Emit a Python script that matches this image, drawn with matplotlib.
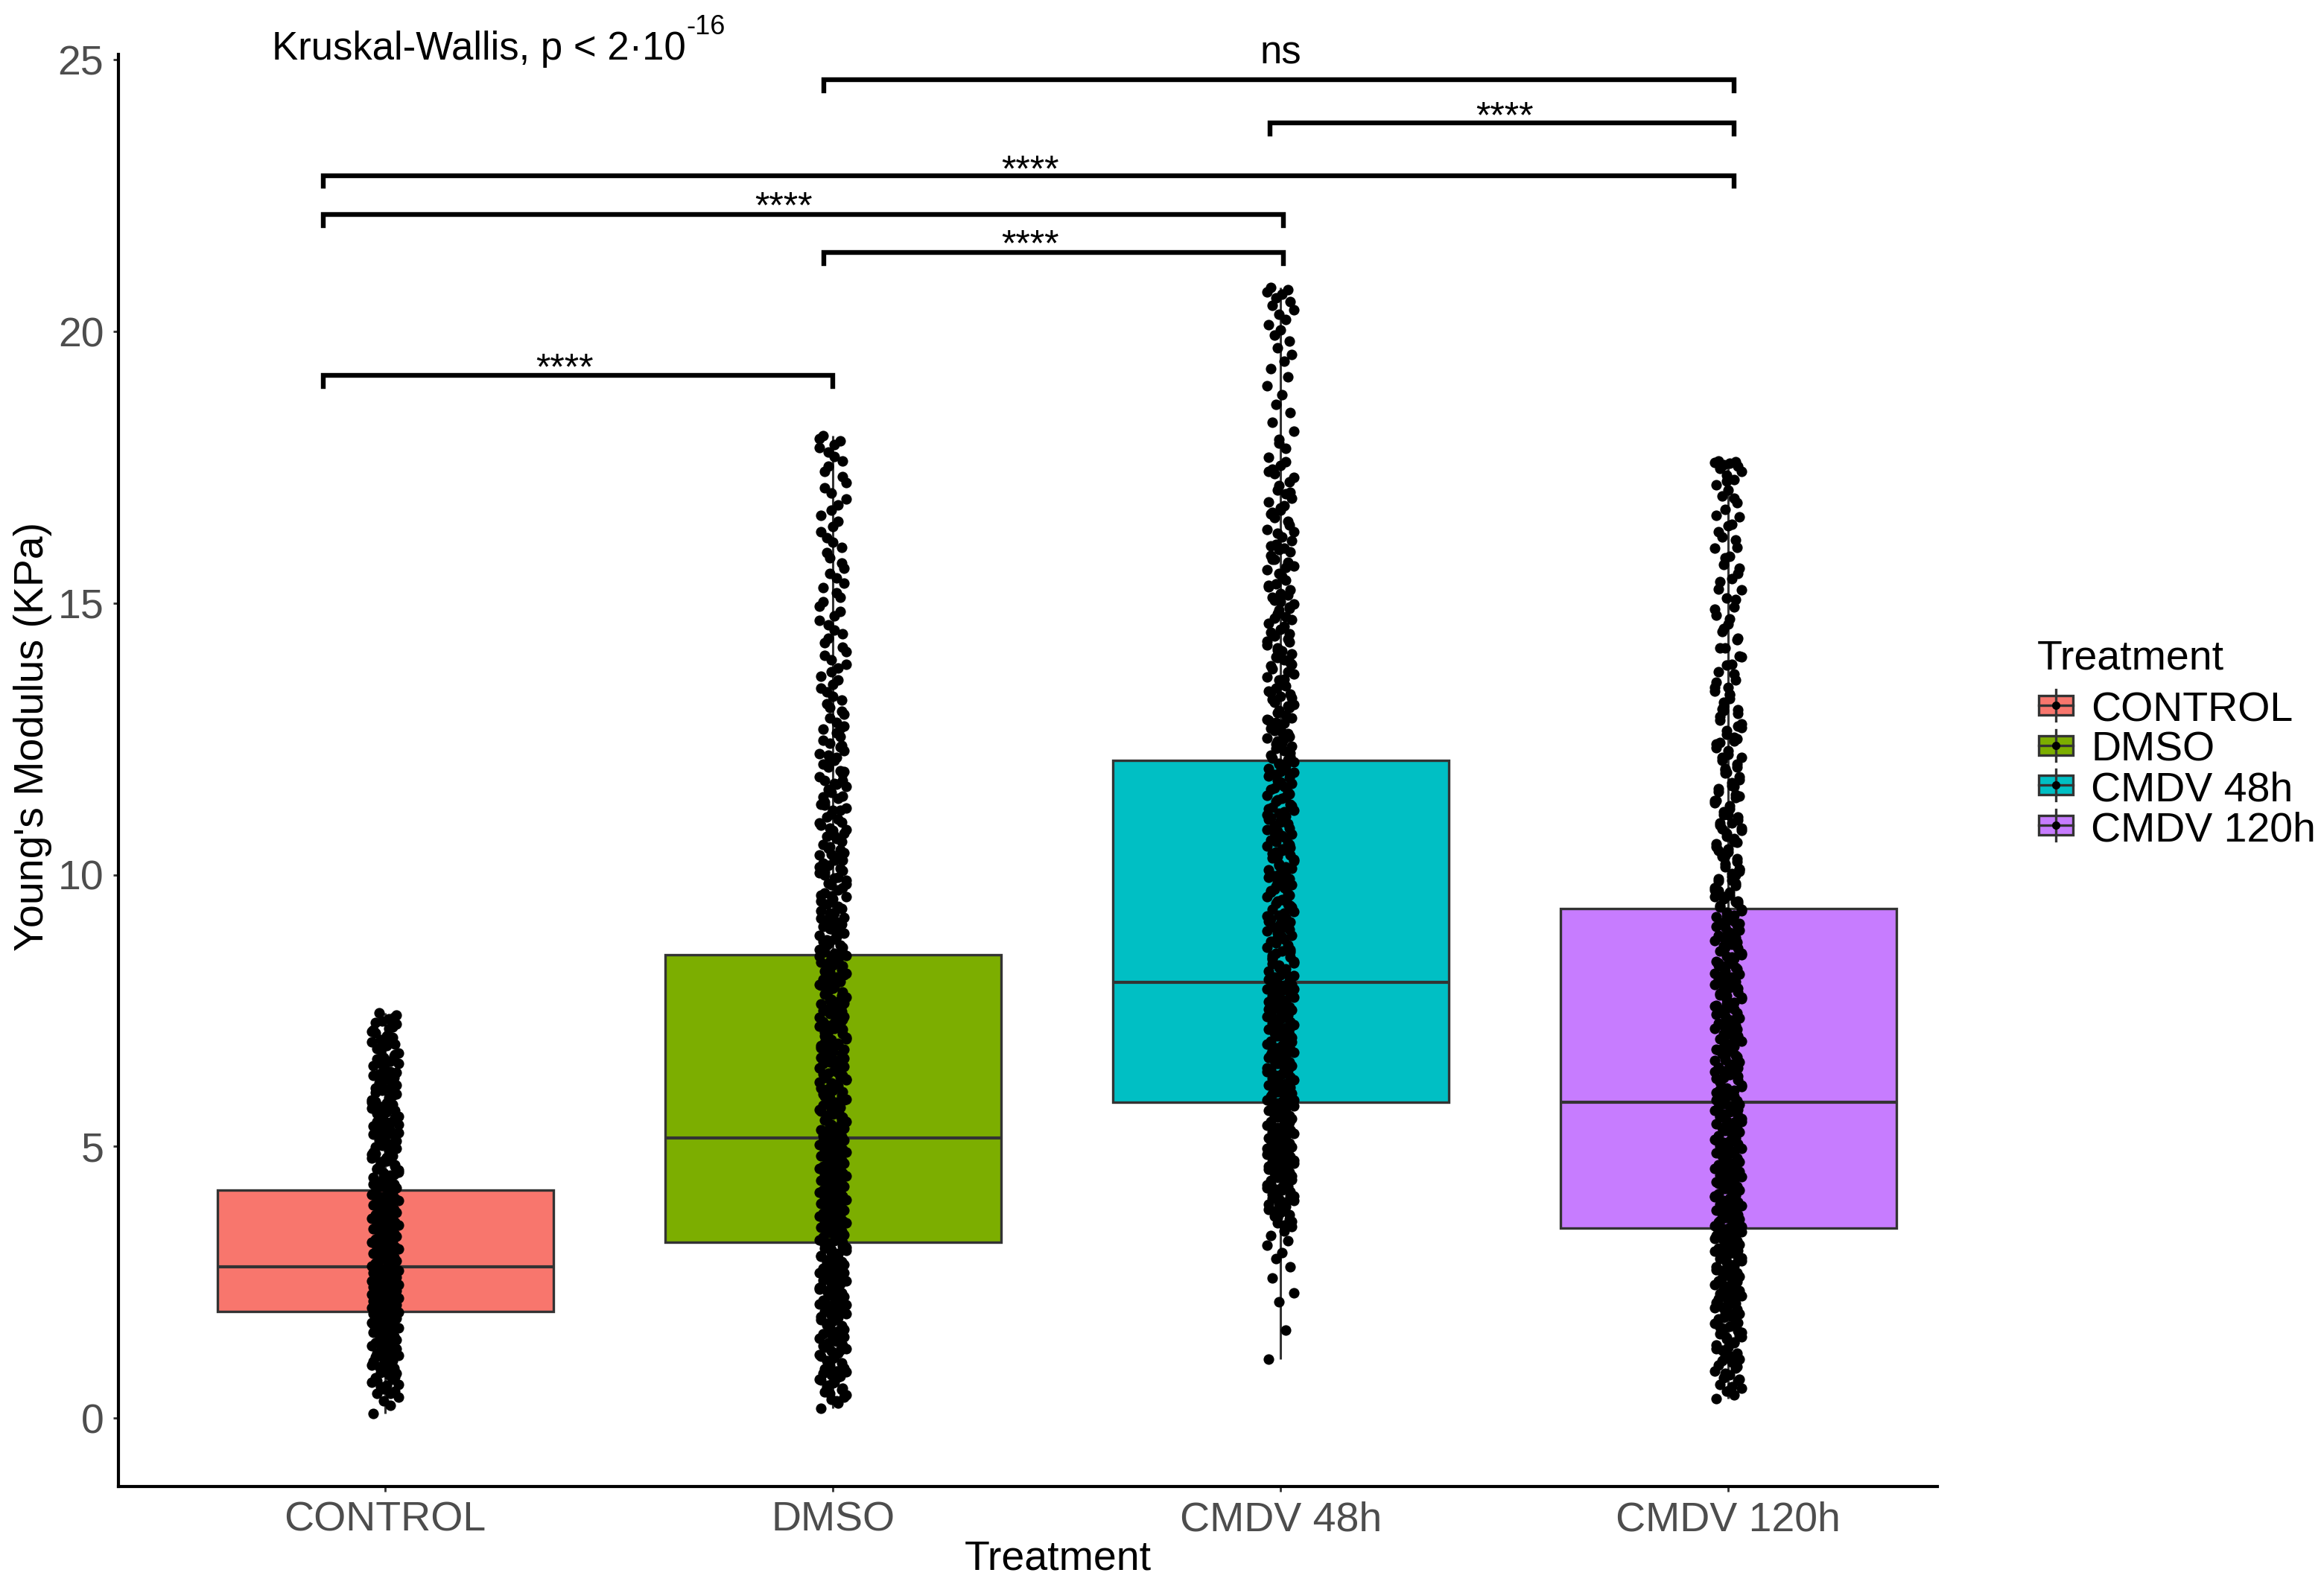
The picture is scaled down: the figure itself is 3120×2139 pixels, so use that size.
import matplotlib.pyplot as plt
from matplotlib.patches import Rectangle
from matplotlib.lines import Line2D
import numpy as np

plt.rcParams['font.family'] = ['Liberation Sans', 'DejaVu Sans']

W, H = 3120, 2139
DPI = 200

treatments = ['CONTROL', 'DMSO', 'CMDV 48h', 'CMDV 120h']
colors = ['#F8766D', '#7CAE00', '#00BFC4', '#C77CFF']

# box stats
q1 = [1.96, 3.24, 5.81, 3.49]
med = [2.78, 5.15, 8.02, 5.81]
q3 = [4.20, 8.53, 12.10, 9.38]

# individual measurements (estimated from the jitter strips)
control_pts = [
    0.08, 0.24, 0.31, 0.38, 0.46, 0.50, 0.57, 0.60, 0.66, 0.71, 0.74, 0.79, 0.83, 0.86, 0.92,
    0.95, 0.99, 1.04, 1.07, 1.10, 1.15, 1.19, 1.22, 1.24, 1.29, 1.33, 1.35, 1.38, 1.42, 1.44,
    1.47, 1.51, 1.53, 1.56, 1.58, 1.61, 1.63, 1.66, 1.68, 1.70, 1.72, 1.74, 1.76, 1.78, 1.80,
    1.82, 1.84, 1.86, 1.87, 1.89, 1.90, 1.92, 1.93, 1.94, 1.95,
    1.97, 1.99, 2.00, 2.02, 2.03, 2.05, 2.06, 2.08, 2.09, 2.10, 2.12, 2.13, 2.15, 2.16, 2.18,
    2.19, 2.21, 2.22, 2.23, 2.25, 2.26, 2.28, 2.29, 2.31, 2.32, 2.34, 2.35, 2.37, 2.38, 2.40,
    2.41, 2.43, 2.44, 2.46, 2.47, 2.49, 2.50, 2.52, 2.53, 2.55, 2.56, 2.58, 2.59, 2.61, 2.62,
    2.64, 2.65, 2.67, 2.68, 2.70, 2.71, 2.73, 2.74, 2.76, 2.77,
    2.80, 2.83, 2.85, 2.88, 2.90, 2.93, 2.96, 2.98, 3.01, 3.03, 3.06, 3.09, 3.11, 3.14, 3.16,
    3.19, 3.22, 3.24, 3.27, 3.29, 3.32, 3.35, 3.37, 3.40, 3.42, 3.45, 3.48, 3.50, 3.53, 3.55,
    3.58, 3.61, 3.63, 3.66, 3.68, 3.71, 3.74, 3.76, 3.79, 3.81, 3.84, 3.87, 3.89, 3.92, 3.94,
    3.97, 4.00, 4.02, 4.05, 4.07, 4.10, 4.12, 4.15, 4.17, 4.19,
    4.23, 4.27, 4.30, 4.35, 4.38, 4.43, 4.47, 4.51, 4.56, 4.60, 4.64, 4.69, 4.73, 4.78, 4.83,
    4.87, 4.92, 4.97, 5.02, 5.07, 5.12, 5.18, 5.23, 5.29, 5.34, 5.40, 5.46, 5.52, 5.58, 5.64,
    5.70, 5.77, 5.83, 5.90, 5.96, 6.03, 6.10, 6.17, 6.24, 6.31, 6.38, 6.46, 6.53, 6.61, 6.69,
    6.77, 6.85, 6.93, 7.01, 7.09, 7.17, 7.25, 7.31, 7.38, 7.46,
    4.25, 4.31, 4.40, 4.45, 4.53, 4.58, 4.66, 4.71, 4.80, 4.85, 4.94, 4.99, 5.05, 5.10, 5.15,
    5.21, 5.27, 5.32, 5.38, 5.44, 5.49, 5.55, 5.61, 5.66, 5.73, 5.80, 5.86, 5.93, 5.99, 6.06,
    6.13, 6.20, 6.27, 6.34, 6.42, 6.49, 6.57, 6.64, 6.72, 6.80, 6.88, 6.96, 7.04, 7.12, 7.20,
    7.28, 7.35, 7.42, 4.28, 4.49, 4.62, 4.76, 4.89, 5.00, 5.14, 5.25, 5.36, 5.47, 5.59, 5.70,
    5.82, 5.95, 6.08, 6.22, 6.36, 6.51, 6.66, 6.82, 6.98, 7.14,
    0.45, 0.53, 0.62, 0.69, 0.76, 0.84, 0.90, 0.97, 1.05, 1.13, 1.20, 1.27, 1.36, 1.45, 1.54,
    1.64, 1.73, 1.83,
]
dmso_pts = [
    0.18, 0.27, 0.35, 0.42, 0.48, 0.55, 0.61, 0.66, 0.72, 0.77, 0.82, 0.87, 0.92, 0.97, 1.01,
    1.06, 1.10, 1.14, 1.19, 1.23, 1.27, 1.31, 1.35, 1.39, 1.43, 1.47, 1.51, 1.55, 1.59, 1.63,
    1.66, 1.70, 1.74, 1.78, 1.81, 1.85, 1.89, 1.92, 1.96, 2.00, 2.03, 2.07, 2.10, 2.14, 2.17,
    2.21, 2.24, 2.28, 2.31, 2.35, 2.38, 2.42, 2.45, 2.48, 2.52, 2.55, 2.58, 2.62, 2.65, 2.68,
    2.72, 2.75, 2.78, 2.82, 2.85, 2.88, 2.91, 2.95, 2.98, 3.01, 3.05, 3.08, 3.12, 3.17, 3.22,
    3.26, 3.28, 3.31, 3.33, 3.36, 3.38, 3.41, 3.44, 3.46, 3.49, 3.51, 3.54, 3.56, 3.59, 3.61,
    3.64, 3.67, 3.69, 3.72, 3.74, 3.77, 3.79, 3.82, 3.84, 3.87, 3.90, 3.92, 3.95, 3.97, 4.00,
    4.02, 4.05, 4.08, 4.10, 4.13, 4.15, 4.18, 4.20, 4.23, 4.26, 4.28, 4.31, 4.33, 4.36, 4.38,
    4.41, 4.43, 4.46, 4.49, 4.51, 4.54, 4.56, 4.59, 4.61, 4.64, 4.67, 4.69, 4.72, 4.74, 4.77,
    4.79, 4.82, 4.85, 4.87, 4.90, 4.92, 4.95, 4.97, 5.00, 5.03, 5.05, 5.08, 5.10, 5.12, 5.14,
    5.18, 5.22, 5.27, 5.31, 5.36, 5.40, 5.45, 5.49, 5.54, 5.58, 5.63, 5.67, 5.72, 5.76, 5.81,
    5.85, 5.90, 5.94, 5.99, 6.03, 6.08, 6.12, 6.17, 6.22, 6.26, 6.31, 6.35, 6.40, 6.44, 6.49,
    6.53, 6.58, 6.62, 6.67, 6.71, 6.76, 6.80, 6.85, 6.89, 6.94, 6.98, 7.03, 7.08, 7.12, 7.17,
    7.21, 7.26, 7.30, 7.35, 7.39, 7.44, 7.48, 7.53, 7.57, 7.62, 7.66, 7.71, 7.75, 7.80, 7.84,
    7.89, 7.94, 7.98, 8.03, 8.07, 8.12, 8.16, 8.21, 8.25, 8.30, 8.34, 8.39, 8.43, 8.47, 8.51,
    8.58, 8.66, 8.73, 8.81, 8.89, 8.97, 9.05, 9.13, 9.21, 9.29, 9.38, 9.46, 9.55, 9.63, 9.72,
    9.81, 9.90, 9.99, 10.08, 10.17, 10.27, 10.36, 10.46, 10.56, 10.66, 10.76, 10.86, 10.97,
    11.07, 11.18, 11.29, 11.40, 11.51, 11.63, 11.74, 11.86, 11.98, 12.10, 12.23, 12.35, 12.48,
    12.61, 12.74, 12.88, 13.01, 13.15, 13.29, 13.44, 13.58, 13.73, 13.88, 14.04, 14.19, 14.35,
    14.51, 14.68, 14.85, 15.02, 15.19, 15.37, 15.55, 15.74, 15.93, 16.12, 16.31, 16.51, 16.71,
    16.92, 17.12, 17.33, 17.52, 17.70, 17.86, 17.98, 18.08,
    0.31, 0.39, 0.45, 0.52, 0.58, 0.64, 0.70, 0.75, 0.80, 0.85, 0.90, 0.95, 1.04, 1.12, 1.17,
    1.25, 1.33, 1.41, 1.49, 1.57, 1.65, 1.72, 1.80, 1.87, 1.94, 2.02, 2.09, 2.16, 2.19, 2.26,
    2.33, 2.40, 2.47, 2.54, 2.60, 2.67, 2.74, 2.80, 2.87, 2.93, 2.99, 3.03, 3.10, 3.14, 3.19,
    3.23, 1.98, 2.12, 2.37, 2.63,
    5.20, 5.25, 5.33, 5.38, 5.47, 5.52, 5.60, 5.65, 5.74, 5.79, 5.87, 5.92, 6.01, 6.06, 6.14,
    6.19, 6.28, 6.33, 6.42, 6.47, 6.55, 6.60, 6.69, 6.74, 6.82, 6.87, 6.96, 7.01, 7.10, 7.15,
    7.23, 7.28, 7.37, 7.42, 7.50, 7.55, 7.64, 7.69, 7.77, 7.82, 7.91, 7.96, 8.05, 8.10, 8.18,
    8.23, 8.32, 8.37, 8.45, 8.50, 5.56, 5.96, 6.37, 6.78, 7.19, 7.60, 8.00, 8.41, 6.64, 7.46,
    5.70, 6.24, 6.91, 7.33, 7.87,
    8.55, 8.62, 8.70, 8.77, 8.85, 8.93, 9.01, 9.09, 9.17, 9.25, 9.33, 9.42, 9.50, 9.59, 9.67,
    9.76, 9.85, 9.94, 10.03, 10.12, 10.22, 10.31, 10.41, 10.51, 10.61, 10.71, 10.81, 10.91,
    11.02, 11.12, 11.23, 11.34, 11.45, 11.57, 11.68, 11.80, 11.92, 12.04, 12.16, 12.29, 12.42,
    8.60, 8.80, 9.00, 9.20, 9.41, 9.61, 9.83, 10.05, 10.27, 10.49, 10.72, 10.95, 11.19, 11.43,
    11.66, 11.90, 12.13, 12.38, 8.70, 9.10, 9.52, 9.95, 10.38, 10.83, 11.28, 11.73, 12.20,
    9.30, 10.15,
    12.55, 12.68, 12.81, 12.95, 13.08, 13.22, 13.36, 13.51, 13.65, 13.80, 13.96, 14.11, 14.27,
    14.43, 14.60, 14.77, 14.94, 15.11, 15.28, 15.46, 15.64, 15.83, 16.02, 16.21, 16.41, 16.61,
    16.81, 17.02, 17.22, 17.42, 17.61, 17.78, 17.92, 18.03, 12.70,
]
cmdv48_pts = [
    1.08, 1.62, 2.14, 2.31, 2.58, 2.79, 2.93, 3.05, 3.18, 3.27, 3.36, 3.44, 3.52, 3.59, 3.66,
    3.72, 3.78, 3.84, 3.90, 3.95, 4.00, 4.05, 4.10, 4.14, 4.19, 4.23, 4.27, 4.31, 4.35, 4.39,
    4.43, 4.47, 4.51, 4.54, 4.58, 4.62, 4.65, 4.69, 4.72, 4.76, 4.79, 4.83, 4.86, 4.89, 4.93,
    4.96, 4.99, 5.02, 5.06, 5.09, 5.12, 5.15, 5.18, 5.21, 5.24, 5.27, 5.30, 5.33, 5.36, 5.39,
    5.42, 5.45, 5.48, 5.51, 5.54, 5.57, 5.60, 5.63, 5.66, 5.69, 5.71, 5.74, 5.76, 5.78, 5.80,
    5.83, 5.86, 5.89, 5.92, 5.95, 5.98, 6.01, 6.04, 6.07, 6.10, 6.13, 6.16, 6.19, 6.22, 6.25,
    6.28, 6.31, 6.34, 6.37, 6.40, 6.43, 6.46, 6.49, 6.52, 6.55, 6.58, 6.61, 6.64, 6.67, 6.70,
    6.73, 6.76, 6.79, 6.82, 6.85, 6.88, 6.91, 6.94, 6.97, 7.00, 7.03, 7.06, 7.09, 7.12, 7.15,
    7.18, 7.21, 7.24, 7.27, 7.30, 7.33, 7.36, 7.39, 7.42, 7.45, 7.48, 7.51, 7.54, 7.57, 7.60,
    7.63, 7.66, 7.69, 7.72, 7.75, 7.78, 7.81, 7.84, 7.87, 7.90, 7.92, 7.94, 7.96, 7.98, 8.00,
    8.05, 8.11, 8.16, 8.22, 8.27, 8.33, 8.38, 8.44, 8.49, 8.55, 8.60, 8.66, 8.71, 8.77, 8.82,
    8.88, 8.93, 8.99, 9.04, 9.10, 9.15, 9.21, 9.26, 9.32, 9.37, 9.43, 9.48, 9.54, 9.59, 9.65,
    9.70, 9.76, 9.81, 9.87, 9.92, 9.98, 10.03, 10.09, 10.14, 10.20, 10.25, 10.31, 10.36, 10.42,
    10.47, 10.53, 10.58, 10.64, 10.69, 10.75, 10.80, 10.86, 10.91, 10.97, 11.02, 11.08, 11.13,
    11.19, 11.24, 11.30, 11.35, 11.41, 11.46, 11.52, 11.57, 11.63, 11.68, 11.74, 11.79, 11.85,
    11.90, 11.96, 12.01, 12.05, 12.08,
    12.15, 12.24, 12.33, 12.42, 12.51, 12.60, 12.70, 12.79, 12.89, 12.98, 13.08, 13.18, 13.28,
    13.38, 13.48, 13.58, 13.69, 13.79, 13.90, 14.01, 14.12, 14.23, 14.34, 14.46, 14.57, 14.69,
    14.81, 14.93, 15.05, 15.17, 15.30, 15.42, 15.55, 15.68, 15.81, 15.95, 16.08, 16.22, 16.36,
    16.50, 16.64, 16.79, 16.93, 17.08, 17.23, 17.38, 17.54, 17.69, 17.85, 18.01, 18.17, 18.33,
    18.50, 18.66, 18.83, 19.00, 19.16, 19.31, 19.45, 19.58, 19.70, 19.82, 19.93, 20.03, 20.13,
    20.22, 20.31, 20.40, 20.48, 20.55, 20.62, 20.68, 20.73, 20.77, 20.81,
    3.55, 3.62, 3.69, 3.75, 3.81, 3.87, 3.93, 3.98, 4.03, 4.08, 4.12, 4.17, 4.21, 4.25, 4.29,
    4.33, 4.37, 4.41, 4.45, 4.49, 4.53, 4.56, 4.60, 4.64, 4.67, 4.71, 4.74, 4.78, 4.81, 4.85,
    4.91, 4.97, 5.04, 5.11, 5.19, 5.26, 5.35, 5.44, 5.55, 5.68,
    8.08, 8.19, 8.30, 8.41, 8.52, 8.63, 8.74, 8.85, 8.96, 9.07, 9.18, 9.29, 9.40, 9.51, 9.62,
    9.73, 9.84, 9.95, 10.06, 10.17, 10.28, 10.39, 10.50, 10.61, 10.72, 10.83, 10.94, 11.05,
    11.16, 11.27, 11.38, 11.49, 11.60, 11.71, 11.82, 11.93, 12.03, 8.14, 8.36, 8.58, 8.80,
    9.02, 9.24, 9.46, 9.68, 9.90, 10.12, 10.34, 10.56, 10.78, 11.00, 11.22, 11.44, 11.66,
    11.88, 8.47, 9.13, 9.79, 10.45, 11.11,
    12.12, 12.20, 12.29, 12.37, 12.46, 12.55, 12.65, 12.74, 12.84, 12.94, 13.03, 13.13, 13.23,
    13.33, 13.43, 13.53, 13.64, 13.74, 13.85, 13.96, 14.06, 14.17, 14.29, 14.40, 14.52, 14.63,
    14.75, 14.87, 14.99, 15.11, 15.24, 15.36, 15.49, 15.62, 15.75, 15.88, 16.01, 16.15, 16.29,
    16.43, 16.57, 16.71, 16.86, 17.01, 17.16, 17.31, 17.46, 12.18, 12.40, 12.62, 12.86, 13.10,
    13.35, 13.60, 13.87, 14.14, 14.43, 14.72, 15.02, 15.33, 15.65, 15.98, 16.32, 16.67, 17.04,
    12.80, 13.50, 14.30, 15.15, 16.05, 12.50, 13.25, 14.00, 14.90, 15.80, 16.75, 17.42, 17.60,
    17.95,
    5.85, 5.97, 6.09, 6.21, 6.33, 6.45, 6.57, 6.69, 6.81, 6.93, 7.05, 7.17, 7.29, 7.41, 7.53,
    7.65, 7.77, 7.89, 7.95, 6.00,
]
cmdv120_pts = [
    0.36, 0.42, 0.49, 0.55, 0.62, 0.68, 0.74, 0.80, 0.86, 0.92, 0.98, 1.03, 1.09, 1.14, 1.19,
    1.25, 1.30, 1.35, 1.40, 1.45, 1.50, 1.55, 1.60, 1.64, 1.69, 1.74, 1.78, 1.83, 1.87, 1.92,
    1.96, 2.00, 2.05, 2.09, 2.13, 2.17, 2.21, 2.25, 2.29, 2.33, 2.37, 2.41, 2.45, 2.49, 2.53,
    2.56, 2.60, 2.64, 2.68, 2.71, 2.75, 2.79, 2.82, 2.86, 2.89, 2.93, 2.96, 3.00, 3.03, 3.07,
    3.10, 3.13, 3.17, 3.20, 3.23, 3.27, 3.30, 3.33, 3.36, 3.39, 3.41, 3.43, 3.45, 3.47, 3.48,
    3.51, 3.54, 3.57, 3.60, 3.63, 3.66, 3.69, 3.72, 3.76, 3.79, 3.82, 3.85, 3.88, 3.91, 3.94,
    3.97, 4.01, 4.04, 4.07, 4.10, 4.13, 4.16, 4.19, 4.22, 4.26, 4.29, 4.32, 4.35, 4.38, 4.41,
    4.44, 4.47, 4.51, 4.54, 4.57, 4.60, 4.63, 4.66, 4.69, 4.72, 4.76, 4.79, 4.82, 4.85, 4.88,
    4.91, 4.94, 4.97, 5.01, 5.04, 5.07, 5.10, 5.13, 5.16, 5.19, 5.22, 5.26, 5.29, 5.32, 5.35,
    5.38, 5.41, 5.44, 5.47, 5.51, 5.54, 5.57, 5.60, 5.63, 5.66, 5.69, 5.72, 5.75, 5.77, 5.79,
    5.84, 5.89, 5.94, 5.99, 6.03, 6.08, 6.13, 6.18, 6.22, 6.27, 6.32, 6.37, 6.41, 6.46, 6.51,
    6.56, 6.60, 6.65, 6.70, 6.75, 6.79, 6.84, 6.89, 6.94, 6.98, 7.03, 7.08, 7.13, 7.17, 7.22,
    7.27, 7.32, 7.36, 7.41, 7.46, 7.51, 7.55, 7.60, 7.65, 7.70, 7.74, 7.79, 7.84, 7.89, 7.93,
    7.98, 8.03, 8.08, 8.12, 8.17, 8.22, 8.27, 8.31, 8.36, 8.41, 8.46, 8.50, 8.55, 8.60, 8.65,
    8.69, 8.74, 8.79, 8.84, 8.88, 8.93, 8.98, 9.03, 9.07, 9.12, 9.17, 9.22, 9.26, 9.31, 9.36,
    9.43, 9.51, 9.59, 9.68, 9.76, 9.85, 9.93, 10.02, 10.11, 10.20, 10.29, 10.38, 10.47, 10.57,
    10.66, 10.76, 10.86, 10.96, 11.06, 11.16, 11.27, 11.37, 11.48, 11.59, 11.70, 11.81, 11.93,
    12.04, 12.16, 12.28, 12.40, 12.53, 12.65, 12.78, 12.91, 13.04, 13.18, 13.31, 13.45, 13.59,
    13.73, 13.88, 14.02, 14.17, 14.32, 14.47, 14.62, 14.78, 14.93, 15.09, 15.24, 15.40, 15.55,
    15.71, 15.86, 16.01, 16.16, 16.31, 16.45, 16.59, 16.72, 16.85, 16.97, 17.08, 17.18, 17.27,
    17.35, 17.42, 17.48, 17.52, 17.55, 17.57, 17.59, 17.60, 17.61,
    0.58, 0.71, 0.83, 0.95, 1.06, 1.17, 1.28, 1.38, 1.48, 1.58, 1.67, 1.76, 1.85, 1.94, 2.03,
    2.11, 2.19, 2.27, 2.35, 2.43, 2.51, 2.58, 2.66, 2.73, 2.80, 2.88, 2.95, 3.02, 3.09, 3.16,
    3.23, 3.30, 3.37, 3.44, 1.12, 1.52, 1.90, 2.31, 2.70, 3.12,
    5.86, 5.92, 6.01, 6.10, 6.20, 6.29, 6.39, 6.48, 6.58, 6.67, 6.77, 6.86, 6.96, 7.05, 7.15,
    7.24, 7.34, 7.43, 7.53, 7.62, 7.72, 7.81, 7.91, 8.00, 8.10, 8.19, 8.29, 8.38, 8.48, 8.57,
    8.67, 8.76, 8.86, 8.95, 9.05, 9.14, 9.24, 9.33, 6.05, 6.44, 6.83, 7.20, 7.58, 7.96, 8.34,
    8.72, 9.10, 6.62, 7.39, 8.14, 8.90, 6.25, 7.00, 7.77, 8.53,
    9.41, 9.47, 9.55, 9.63, 9.72, 9.80, 9.89, 9.97, 10.06, 10.15, 10.24, 10.33, 10.42, 10.52,
    10.61, 10.71, 10.81, 10.91, 11.01, 11.11, 11.21, 11.32, 11.42, 11.53, 11.64, 11.75, 11.87,
    11.98, 12.10, 12.22, 12.34, 12.46, 12.59, 12.71, 12.84, 12.97, 13.11, 13.24, 13.38, 9.50,
    9.70, 9.90, 10.10, 10.35, 10.60, 10.85, 11.10, 11.36, 11.62, 11.89, 12.16, 12.44, 12.73,
    13.02, 13.32, 9.60, 10.00, 10.45, 10.95, 11.45, 11.95, 12.50, 13.05, 13.45,
    13.55, 13.70, 13.86, 14.01, 14.18, 14.35, 14.53, 14.71, 14.89, 15.07, 15.26, 15.45, 15.64,
    15.83, 16.03, 16.22, 16.42, 16.62, 16.93, 17.25,
    3.53, 3.64, 3.75, 3.86, 3.98, 4.09, 4.20, 4.32, 4.43, 4.54, 4.66, 4.77, 4.88, 5.00, 5.11,
    5.22, 5.34, 5.45, 5.56, 5.68,
]
points = [control_pts, dmso_pts, cmdv48_pts, cmdv120_pts]

# pairwise comparisons (bracket ends in x units, bracket height, label)
brk_from = [0.861, 1.98, 0.861, 0.861, 2.977, 1.98]
brk_to = [2.0, 3.007, 3.007, 4.013, 4.013, 4.013]
brk_y = [19.19, 21.45, 22.15, 22.87, 23.84, 24.63]
brk_label = ['****', '****', '****', '****', '****', 'ns']
brk_label_x = [1.40, 2.44, 1.89, 2.44, 3.50, 3.00]
brk_label_y = [19.12, 21.40, 22.09, 22.77, 23.75, 24.93]

JITTER = [-0.027, 0.012, -0.004, 0.029, -0.018, 0.021, -0.011, 0.003, -0.030,
          0.016, -0.022, 0.008, 0.025, -0.007, 0.019, -0.014, 0.000]
BOX_W = 0.75
EDGE = '#333333'

fig = plt.figure(figsize=(W / DPI, H / DPI), dpi=DPI)


def fx(px):
    return px / W


def fy(py):
    return 1 - py / H


ax = fig.add_axes([fx(159), fy(1996), fx(2601) - fx(159), fy(73) - fy(1996)])
ax.set_xlim(0.404, 4.467)
ax.set_ylim(-1.26, 25.1)

xpos = np.arange(1, len(treatments) + 1)

# whiskers
lo = [min(p) for p in points]
hi = [max(p) for p in points]
ax.vlines(xpos, lo, hi, color=EDGE, lw=1.1, zorder=1)

# boxes
ax.bar(xpos, np.array(q3) - np.array(q1), bottom=q1, width=BOX_W,
       color=colors, edgecolor=EDGE, linewidth=1.2, zorder=2)
ax.hlines(med, xpos - BOX_W / 2, xpos + BOX_W / 2, color=EDGE, lw=1.5, zorder=3)

# jittered points
for i, pts in enumerate(points):
    offs = np.resize(JITTER, len(pts))
    ax.scatter(xpos[i] + offs, pts, s=26, color='black', linewidths=0, zorder=4)

# brackets
tip = 0.2
for x1, x2, y, lab, lx, ly in zip(brk_from, brk_to, brk_y, brk_label, brk_label_x, brk_label_y):
    ax.plot([x1, x1, x2, x2], [y - tip, y, y, y - tip], color='black', lw=2.3,
            solid_joinstyle='miter', clip_on=False, zorder=5)
    fs = 19 if lab == 'ns' else 18
    ax.text(lx, ly, lab, ha='center', va='baseline', fontsize=fs, color='black')

# axes styling
for s in ['top', 'right']:
    ax.spines[s].set_visible(False)
for s in ['left', 'bottom']:
    ax.spines[s].set_linewidth(1.5)
    ax.spines[s].set_color('black')
ax.set_xticks(xpos)
ax.set_xticklabels(treatments)
ax.set_yticks([0, 5, 10, 15, 20, 25])
ax.tick_params(axis='both', length=2.6, width=1.0, color=EDGE, labelsize=20,
               labelcolor='#4D4D4D', pad=4.5)

fig.text(fx(1420), fy(2094), 'Treatment', ha='center', va='center', fontsize=20)
fig.text(fx(44), fy(989), "Young's Modulus (KPa)", ha='center', va='center',
         rotation=90, fontsize=20)

kw = fig.text(fx(365), fy(80), 'Kruskal-Wallis, p < 2\u00b710', ha='left',
              va='baseline', fontsize=19)
fig.canvas.draw()
bb = kw.get_window_extent(fig.canvas.get_renderer())
fig.text(bb.x1 / W + 0.0003, fy(46), '-16', ha='left', va='baseline', fontsize=13)

# legend (boxplot key glyphs)
fig.text(fx(2735), fy(898), 'Treatment', ha='left', va='baseline', fontsize=20)
key_cy = [947, 1001, 1054, 1108]
for c, lab, cy in zip(colors, treatments, key_cy):
    kx0, kx1 = 2737, 2783
    kcx = (kx0 + kx1) / 2
    fig.add_artist(Line2D([fx(kcx), fx(kcx)], [fy(cy - 21), fy(cy + 21)],
                          color=EDGE, lw=1.2))
    fig.add_artist(Rectangle((fx(kx0), fy(cy + 13)), fx(kx1) - fx(kx0), fy(cy - 13) - fy(cy + 13),
                             facecolor=c, edgecolor=EDGE, lw=1.2))
    fig.add_artist(Line2D([fx(kx0), fx(kx1)], [fy(cy), fy(cy)], color=EDGE, lw=1.2))
    fig.add_artist(Line2D([fx(kcx)], [fy(cy)], marker='o', markersize=4,
                          color='black', markeredgewidth=0))
    fig.text(fx(2807), fy(cy + 21), lab, ha='left', va='baseline', fontsize=20)

fig.savefig('out.png', dpi=DPI, facecolor='white')
